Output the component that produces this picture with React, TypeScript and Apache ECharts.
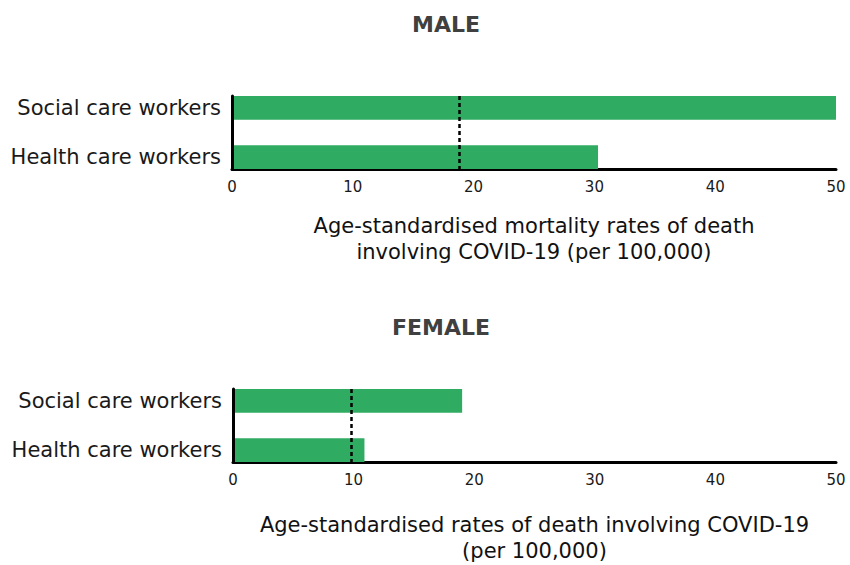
import React, { useEffect, useRef } from "react";
import * as echarts from "echarts";

const categories = ["Social care workers", "Health care workers"];
const maleValues = [50.1, 30.3];
const femaleValues = [19.0, 10.9];
const maleReference = 18.8;
const femaleReference = 9.8;
const xTicks = [0, 10, 20, 30, 40, 50];
const maleAxisTitle = "Age-standardised mortality rates of death\ninvolving COVID-19 (per 100,000)";
const femaleAxisTitle = "Age-standardised rates of death involving COVID-19\n(per 100,000)";

const FONT = "'DejaVu Sans', sans-serif";
const GREEN = "#30ab62";

function buildSeries(values: number[], axisIndex: number, refValue: number) {
  return values.map((v, i) => ({
    type: "bar",
    name: categories[i],
    xAxisIndex: axisIndex,
    yAxisIndex: axisIndex,
    barWidth: 24,
    barGap: "-46%",
    data: values.map((_, j) => (j === i ? v : "-")),
    itemStyle: { color: GREEN },
    label: {
      show: true,
      position: "left",
      distance: 11,
      formatter: "{b}",
      color: "#1a1a1a",
      fontSize: 21,
      fontFamily: FONT,
    },
    markLine:
      i === 0
        ? {
            silent: true,
            symbol: "none",
            label: { show: false },
            lineStyle: { color: "#000", type: [4, 3], width: 2.5 },
            data: [{ xAxis: refValue }],
          }
        : undefined,
  }));
}

function xAxisDef(gridIndex: number, name: string, nameGap: number) {
  return {
    type: "value",
    gridIndex,
    min: xTicks[0],
    max: xTicks[xTicks.length - 1],
    interval: 10,
    axisLine: { show: true, lineStyle: { color: "#000", width: 3 } },
    axisTick: { show: false },
    splitLine: { show: false },
    axisLabel: { color: "#1a1a1a", fontSize: 15, fontFamily: FONT, margin: 10 },
    name,
    nameLocation: "middle",
    nameGap,
    nameTextStyle: { color: "#111", fontSize: 21, fontFamily: FONT, lineHeight: 26 },
  };
}

function yAxisDef(gridIndex: number) {
  return {
    type: "category",
    gridIndex,
    inverse: true,
    z: 5,
    data: categories,
    axisLine: { show: true, lineStyle: { color: "#000", width: 3 } },
    axisTick: { show: false },
    axisLabel: { show: false },
    splitLine: { show: false },
  };
}

export default function App() {
  const ref = useRef<HTMLDivElement>(null);
  useEffect(() => {
    if (!ref.current) return;
    const chart = echarts.init(ref.current, undefined, { renderer: "svg" });
    chart.setOption({
      animation: false,
      backgroundColor: "#fff",
      title: [
        {
          text: "MALE",
          left: 441,
          top: 8,
          textAlign: "center",
          textStyle: { color: "#404040", fontSize: 22, fontWeight: "bold", fontFamily: FONT },
        },
        {
          text: "FEMALE",
          left: 436,
          top: 311,
          textAlign: "center",
          textStyle: { color: "#404040", fontSize: 22, fontWeight: "bold", fontFamily: FONT },
        },
      ],
      grid: [
        { left: 232, right: 14, top: 96, height: 73 },
        { left: 233, right: 14, top: 389, height: 73 },
      ],
      xAxis: [xAxisDef(0, maleAxisTitle, 44), xAxisDef(1, femaleAxisTitle, 50)],
      yAxis: [yAxisDef(0), yAxisDef(1)],
      series: [
        ...buildSeries(maleValues, 0, maleReference),
        ...buildSeries(femaleValues, 1, femaleReference),
      ],
    });
    return () => chart.dispose();
  }, []);
  return (
    <div
      ref={ref}
      style={{ position: "fixed", left: 0, top: 0, width: 850, height: 565 }}
    />
  );
}
